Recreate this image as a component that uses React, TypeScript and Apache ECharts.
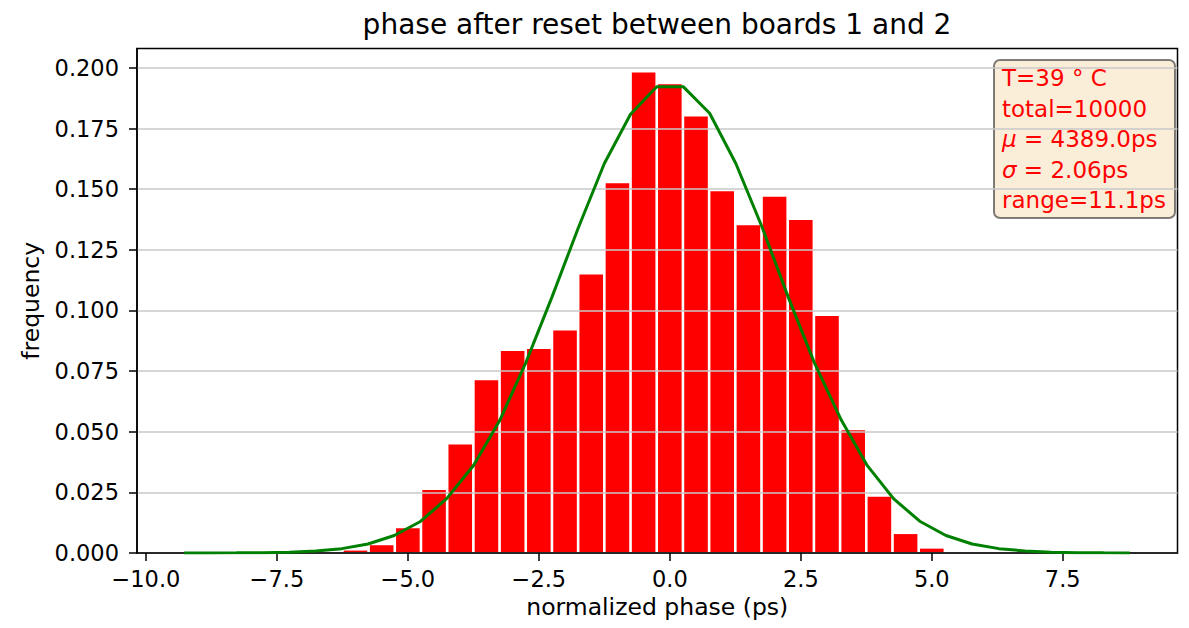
import React, { useEffect, useRef } from "react";
import * as echarts from "echarts";

// Histogram bin centers (ps) and normalized frequencies
const binCenters = [-6.0, -5.5, -5.0, -4.5, -4.0, -3.5, -3.0, -2.5, -2.0, -1.5, -1.0, -0.5, 0.0, 0.5, 1.0, 1.5, 2.0, 2.5, 3.0, 3.5, 4.0, 4.5, 5.0];
const binFreq = [0.0010, 0.0032, 0.0102, 0.0260, 0.0447, 0.0712, 0.0833, 0.0841, 0.0917, 0.1148, 0.1524, 0.1981, 0.1933, 0.1800, 0.1491, 0.1351, 0.1469, 0.1373, 0.0977, 0.0506, 0.0232, 0.0078, 0.0018];

// Fitted normal curve
const fitX = [-9.27, -8.77, -8.27, -7.77, -7.26, -6.76, -6.26, -5.76, -5.26, -4.76, -4.26, -3.75, -3.25, -2.75, -2.25, -1.75, -1.25, -0.75, -0.25, 0.26, 0.76, 1.26, 1.76, 2.26, 2.76, 3.27, 3.77, 4.27, 4.77, 5.27, 5.77, 6.28, 6.78, 7.28, 7.78, 8.28, 8.78];
const fitY = [0.00001, 0.00002, 0.00006, 0.00015, 0.00036, 0.00083, 0.0018, 0.0037, 0.0072, 0.0130, 0.0224, 0.0360, 0.0545, 0.0784, 0.1055, 0.1339, 0.1606, 0.1809, 0.1922, 0.1922, 0.1813, 0.1606, 0.1344, 0.1055, 0.0784, 0.0549, 0.0360, 0.0224, 0.0131, 0.0072, 0.0037, 0.0018, 0.00083, 0.00036, 0.00015, 0.00006, 0.00002];

const xTicks = [-10, -7.5, -5, -2.5, 0, 2.5, 5, 7.5];
const yTicks = [0, 0.025, 0.05, 0.075, 0.1, 0.125, 0.15, 0.175, 0.2];

const titleText = "phase after reset between boards 1 and 2";
const xName = "normalized phase (ps)";
const yName = "frequency";
const infoLines = ["T=39 ° C", "total=10000", "{it|μ} = 4389.0ps", "{it|σ} = 2.06ps", "range=11.1ps"];

const FONT = "DejaVu Sans";
const BAR_HALF = 0.225;

export default function App() {
  const ref = useRef<HTMLDivElement>(null);
  useEffect(() => {
    if (!ref.current) return;
    const chart = echarts.init(ref.current, undefined, { renderer: "svg" });
    const fmtMinus = (s: string) => s.replace("-", "\u2212");
    const option: any = {
      animation: false,
      backgroundColor: "#ffffff",
      textStyle: { fontFamily: FONT },
      title: {
        text: titleText,
        left: 652,
        textAlign: "center",
        top: 5,
        textStyle: { fontFamily: FONT, fontSize: 28, fontWeight: "normal", color: "#000" },
      },
      grid: {
        left: 137,
        right: 11.5,
        top: 48.5,
        bottom: 75,
        show: true,
        borderColor: "#000",
        borderWidth: 1.5,
        backgroundColor: "transparent",
        z: 3,
      },
      xAxis: {
        type: "value",
        min: -10.17,
        max: 9.69,
        z: 3,
        name: xName,
        nameLocation: "middle",
        nameGap: 41,
        nameTextStyle: { fontFamily: FONT, fontSize: 23.5, color: "#000" },
        axisLine: { show: true, onZero: false, lineStyle: { color: "#000", width: 1.5 } },
        axisTick: { show: true, length: 8, inside: false, customValues: xTicks, lineStyle: { color: "#000", width: 1.5 } },
        axisLabel: {
          customValues: xTicks,
          margin: 14,
          fontFamily: FONT,
          fontSize: 22.5,
          color: "#000",
          formatter: (v: number) => fmtMinus(v.toFixed(1)),
        },
        splitLine: { show: false },
      },
      yAxis: {
        type: "value",
        min: 0,
        max: 0.208,
        z: 3,
        name: yName,
        nameLocation: "middle",
        nameGap: 94,
        nameRotate: 90,
        nameTextStyle: { fontFamily: FONT, fontSize: 23.5, color: "#000" },
        axisLine: { show: true, onZero: false, lineStyle: { color: "#000", width: 1.5 } },
        axisTick: { show: true, length: 8, inside: false, customValues: yTicks, lineStyle: { color: "#000", width: 1.5 } },
        axisLabel: {
          customValues: yTicks,
          margin: 18,
          fontFamily: FONT,
          fontSize: 22.5,
          color: "#000",
          formatter: (v: number) => v.toFixed(3),
        },
        splitLine: { show: true, lineStyle: { color: "#c8c8c8", width: 1.6 } },
      },
      series: [
        {
          type: "custom",
          z: 1,
          data: binCenters.map((c, i) => [c, binFreq[i]]),
          encode: { x: 0, y: 1 },
          renderItem: (params: any, api: any) => {
            const x = api.value(0);
            const h = api.value(1);
            const p0 = api.coord([x - BAR_HALF, h]);
            const p1 = api.coord([x + BAR_HALF, 0]);
            return {
              type: "rect",
              shape: { x: p0[0], y: p0[1], width: p1[0] - p0[0], height: p1[1] - p0[1] },
              style: { fill: "#ff0000" },
            };
          },
        },
        {
          type: "line",
          z: 5,
          showSymbol: false,
          symbol: "none",
          data: fitX.map((x, i) => [x, fitY[i]]),
          lineStyle: { color: "#008000", width: 3 },
        },
      ],
      graphic: [
        {
          type: "group",
          left: 993,
          top: 59,
          z: 10,
          children: [
            {
              type: "rect",
              shape: { x: 0, y: 0, width: 181, height: 158, r: 6 },
              style: { fill: "rgba(245,222,179,0.5)", stroke: "rgba(0,0,0,0.5)", lineWidth: 2 },
            },
            {
              type: "text",
              x: 8,
              y: 3,
              style: {
                text: infoLines.join("\n"),
                fill: "#ff0000",
                fontFamily: FONT,
                fontSize: 23,
                lineHeight: 30.5,
                verticalAlign: "top",
                align: "left",
                rich: {
                  it: { fontStyle: "italic", fontFamily: FONT, fontSize: 23, fill: "#ff0000", lineHeight: 30.5 },
                },
              },
            },
          ],
        },
      ],
    };
    chart.setOption(option);
    return () => chart.dispose();
  }, []);
  return <div ref={ref} style={{ position: "fixed", left: 0, top: 0, width: 1189, height: 628 }} />;
}
